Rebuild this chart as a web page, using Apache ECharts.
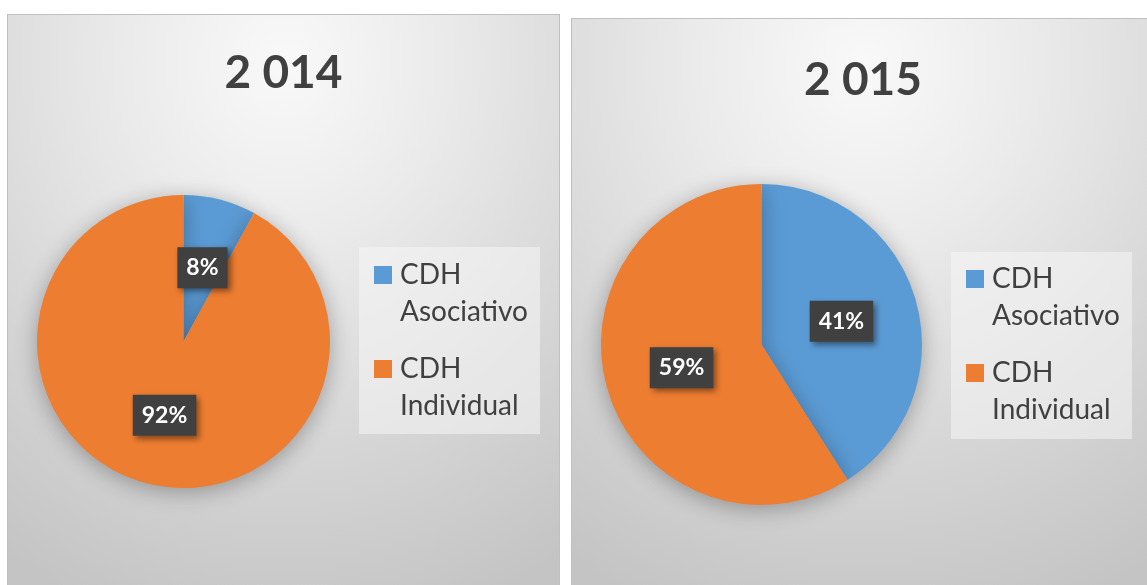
<!DOCTYPE html>
<html>
<head>
<meta charset="utf-8">
<script src="https://cdn.jsdelivr.net/npm/echarts@6/dist/echarts.min.js"></script>
<style>
html, body { margin: 0; padding: 0; background: #fff; overflow: hidden; width: 1147px; height: 585px; }
.panel {
    position: absolute;
    border: 1px solid #c0c0c0;
    background: radial-gradient(ellipse 95% 100% at 50% 8%, #f9f9f9 0%, #ebebeb 30%, #d4d4d4 70%, #c4c4c4 100%);
}
#left { left: 7px; top: 14px; width: 551px; height: 580px; }
#right { left: 571px; top: 18px; width: 582px; height: 580px; }
</style>
</head>
<body>
<div class="panel" id="left"></div>
<div class="panel" id="right"></div>
<script>
// chart data
const years = ['2 014', '2 015'];
const categories = ['CDH Asociativo', 'CDH Individual'];
const asociativo = [8, 41];
const individual = [92, 59];
const colors = ['#5B9BD5', '#ED7D31'];

// layout per panel
const panels = [
    { el: 'left', center: [175.5, 326.5], radius: 146.5, titleTop: 35, legendLeft: 351, legendTop: 232, legendPad: [-27.5, 12, 9.5, 15] },
    { el: 'right', center: [189.5, 325.5], radius: 160.5, titleTop: 38, legendLeft: 379, legendTop: 233, legendPad: [-28.5, 12, 10.5, 15] }
];

const font = 'Lato, "Open Sans", sans-serif';

panels.forEach(function (p, i) {
    const chart = echarts.init(document.getElementById(p.el));
    chart.setOption({
        color: colors,
        animation: false,
        title: {
            text: years[i],
            left: 'center',
            top: p.titleTop,
            padding: 0,
            textStyle: { color: '#404040', fontSize: 46, fontWeight: 'bold', fontFamily: font }
        },
        legend: {
            orient: 'vertical',
            left: p.legendLeft,
            top: p.legendTop,
            padding: p.legendPad,
            backgroundColor: 'rgba(245,245,245,0.55)',
            itemGap: -17,
            itemWidth: 18,
            itemHeight: 18,
            icon: 'rect',
            selectedMode: false,
            data: categories,
            formatter: function (name) {
                return ' \n' + name.replace(' ', '\n');
            },
            textStyle: { color: '#404040', fontSize: 28, lineHeight: 37, fontFamily: font, padding: [0, 0, 0, 3] }
        },
        series: [{
            type: 'pie',
            center: p.center,
            radius: p.radius,
            startAngle: 90,
            clockwise: true,
            itemStyle: {
                shadowBlur: 22,
                shadowOffsetY: 4,
                shadowColor: 'rgba(0,0,0,0.3)'
            },
            label: {
                show: true,
                position: 'inside',
                formatter: '{c}%',
                color: '#fff',
                fontSize: 23,
                fontWeight: 'bold',
                fontFamily: font,
                backgroundColor: '#404040',
                padding: [10, 9, 8, 9],
                shadowBlur: 6,
                shadowOffsetX: 3,
                shadowOffsetY: 3,
                shadowColor: 'rgba(0,0,0,0.45)'
            },
            labelLine: { show: false },
            emphasis: { disabled: true },
            data: [
                { name: categories[0], value: asociativo[i] },
                { name: categories[1], value: individual[i] }
            ]
        }]
    });
});
</script>
</body>
</html>
